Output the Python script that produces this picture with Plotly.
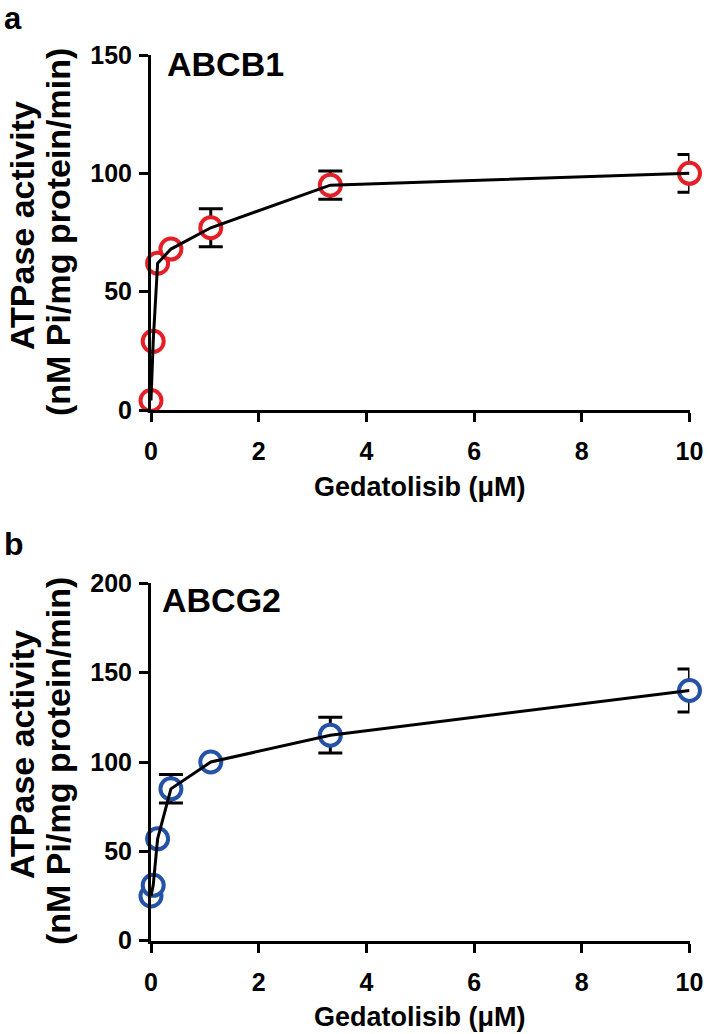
import plotly.graph_objects as go

# ---- data ----
conc_um = [0, 0.041, 0.123, 0.37, 1.11, 3.33, 10]
abcb1_activity = [4, 29, 62, 68, 77, 95, 100]
abcb1_sem = [None, None, None, None, 8, 6, 8]
abcg2_activity = [25, 31, 57, 85, 100, 115, 140]
abcg2_sem = [None, None, None, 8, None, 10, 12]

x_ticks = [0, 2, 4, 6, 8, 10]
abcb1_y_ticks = [0, 50, 100, 150]
abcg2_y_ticks = [0, 50, 100, 150, 200]

RED = "#e41f26"
BLUE = "#2452a6"
FONT = "Liberation Sans"
W, H = 708, 1034

fig = go.Figure()


def add_panel(y, err, color, xa, ya):
    idx = [i for i, e in enumerate(err) if e is not None]
    fig.add_trace(go.Scatter(
        x=[conc_um[i] for i in idx], y=[y[i] for i in idx],
        mode="markers", marker=dict(size=2, opacity=0),
        error_y=dict(type="data", array=[err[i] for i in idx], visible=True,
                     color="black", thickness=3, width=12),
        xaxis=xa, yaxis=ya, showlegend=False, hoverinfo="skip", cliponaxis=False))
    fig.add_trace(go.Scatter(
        x=conc_um, y=y, mode="markers",
        marker=dict(symbol="circle", size=21, color="white",
                    line=dict(color=color, width=4)),
        xaxis=xa, yaxis=ya, showlegend=False, cliponaxis=False))
    fig.add_trace(go.Scatter(
        x=conc_um, y=y, mode="lines", line=dict(color="black", width=3),
        xaxis=xa, yaxis=ya, showlegend=False, cliponaxis=False))


add_panel(abcb1_activity, abcb1_sem, RED, "x", "y")
add_panel(abcg2_activity, abcg2_sem, BLUE, "x2", "y2")

xdom = [151 / W, 689.5 / W]
axis_common = dict(showline=True, linecolor="black", linewidth=3, ticks="outside",
                   ticklen=9, tickwidth=3, tickcolor="black", showgrid=False,
                   zeroline=False, automargin=False,
                   tickfont=dict(family=FONT, size=25, color="black", weight="bold"))

fig.update_layout(
    width=W, height=H, autosize=False,
    margin=dict(l=0, r=0, t=0, b=0, autoexpand=False),
    paper_bgcolor="white", plot_bgcolor="white",
    xaxis=dict(domain=xdom, range=[0, 10], tickvals=x_ticks, anchor="y",
               ticklabelstandoff=8, **axis_common),
    yaxis=dict(domain=[1 - 410 / H, 1 - 55 / H], range=[0, 150], tickvals=abcb1_y_ticks,
               anchor="x", ticklabelstandoff=2, **axis_common),
    xaxis2=dict(domain=xdom, range=[0, 10], tickvals=x_ticks, anchor="y2",
                ticklabelstandoff=8, **axis_common),
    yaxis2=dict(domain=[1 - 940.7 / H, 1 - 583.3 / H], range=[0, 200], tickvals=abcg2_y_ticks,
                anchor="x2", ticklabelstandoff=2, **axis_common),
)


def ann(text, px, py, size, xanchor="center", angle=0, yanchor="middle"):
    fig.add_annotation(text=text, x=px / W, y=1 - py / H, xref="paper", yref="paper",
                       xanchor=xanchor, yanchor=yanchor, showarrow=False, textangle=angle,
                       borderpad=0, font=dict(family=FONT, size=size, color="black"))


# panel letters
ann("<b>a</b>", 3, 0, 31, xanchor="left", yanchor="top")
ann("<b>b</b>", 3, 544, 32, xanchor="left")
# panel titles
ann("<b>ABCB1</b>", 166, 64, 34, xanchor="left")
ann("<b>ABCG2</b>", 161, 600, 34, xanchor="left")
# y titles
for cy in (229, 758):
    ann("<b>ATPase activity</b>", 22, cy - 3, 34, angle=-90)
    ann("<b>(nM Pi/mg protein/min)</b>", 58, cy + 3, 34, angle=-90)
# x titles
ann("<b>Gedatolisib (μM)</b>", 420, 487, 27)
ann("<b>Gedatolisib (μM)</b>", 420, 1017, 27)

fig.write_html("out.html", config={"displayModeBar": False},
               post_script="document.body.style.margin='0';")
